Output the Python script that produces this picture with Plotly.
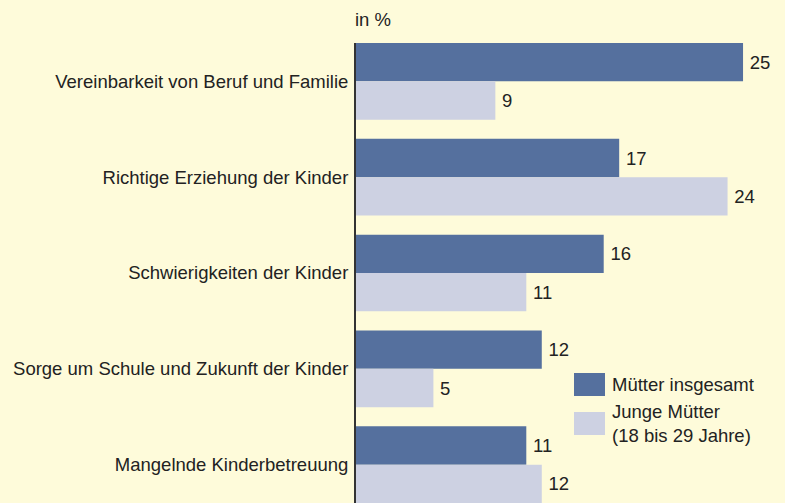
import plotly.graph_objects as go

categories = [
    "Vereinbarkeit von Beruf und Familie",
    "Richtige Erziehung der Kinder",
    "Schwierigkeiten der Kinder",
    "Sorge um Schule und Zukunft der Kinder",
    "Mangelnde Kinderbetreuung",
]
muetter_insgesamt = [25, 17, 16, 12, 11]
junge_muetter = [9, 24, 11, 5, 12]

BG = "#FEFBDA"
DARK = "#55709E"
LIGHT = "#CDD1E2"
TXT = "#222222"
FONT = "Liberation Sans, Arial, sans-serif"
FS = 18.5

fig = go.Figure()
fig.add_trace(go.Bar(
    y=categories, x=muetter_insgesamt, orientation="h",
    name="Mütter insgesamt", marker=dict(color=DARK, line=dict(width=0)),
    text=["\u2009" + str(v) for v in muetter_insgesamt], textposition="outside",
    textfont=dict(size=FS, color=TXT, family=FONT), cliponaxis=False,
    hoverinfo="skip",
))
fig.add_trace(go.Bar(
    y=categories, x=junge_muetter, orientation="h",
    name="Junge Mütter (18 bis 29 Jahre)", marker=dict(color=LIGHT, line=dict(width=0)),
    text=["\u2009" + str(v) for v in junge_muetter], textposition="outside",
    textfont=dict(size=FS, color=TXT, family=FONT), cliponaxis=False,
    hoverinfo="skip",
))

fig.update_layout(
    width=785, height=503,
    margin=dict(l=356, r=0, t=43, b=0),
    paper_bgcolor=BG, plot_bgcolor=BG,
    barmode="group", bargap=0.2, bargroupgap=0,
    showlegend=False,
    font=dict(family=FONT, size=FS, color=TXT),
    xaxis=dict(range=[0, 27.71], visible=False, showgrid=False, zeroline=False),
    yaxis=dict(
        type="category", range=[4.4, -0.4],
        showgrid=False, zeroline=False,
        showline=True, linecolor="#333333", linewidth=2,
        ticks="outside", ticklen=2, tickcolor="rgba(0,0,0,0)",
        tickfont=dict(size=FS, color=TXT, family=FONT),
    ),
)

fig.add_annotation(
    text="in %", xref="paper", yref="paper", x=0, y=1, yshift=11, xshift=-3,
    xanchor="left", yanchor="bottom", showarrow=False,
    font=dict(size=FS, color=TXT, family=FONT),
)

# Custom legend
fig.add_shape(type="rect", xref="paper", yref="paper",
              x0=(574 - 356) / 429, x1=(605 - 356) / 429,
              y0=(503 - 396) / 460, y1=(503 - 373) / 460,
              fillcolor=DARK, line=dict(width=0))
fig.add_shape(type="rect", xref="paper", yref="paper",
              x0=(574 - 356) / 429, x1=(605 - 356) / 429,
              y0=(503 - 435) / 460, y1=(503 - 412) / 460,
              fillcolor=LIGHT, line=dict(width=0))
fig.add_annotation(
    text="Mütter insgesamt", xref="paper", yref="paper",
    x=(610 - 356) / 429, y=(503 - 384) / 460,
    xanchor="left", yanchor="middle", showarrow=False, align="left",
    font=dict(size=FS, color=TXT, family=FONT),
)
fig.add_annotation(
    text="Junge Mütter<br>(18 bis 29 Jahre)", xref="paper", yref="paper",
    x=(610 - 356) / 429, y=(503 - 423) / 460,
    xanchor="left", yanchor="middle", showarrow=False, align="left",
    font=dict(size=FS, color=TXT, family=FONT),
)

fig.write_html(
    "out.html",
    config={"displayModeBar": False, "staticPlot": True},
    post_script="document.body.style.margin='0';document.body.style.overflow='hidden';",
)
